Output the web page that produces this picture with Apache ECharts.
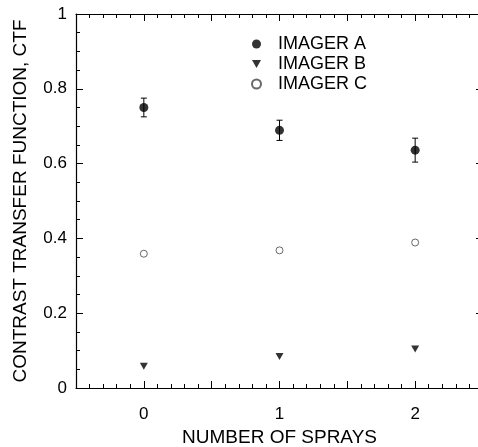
<!DOCTYPE html>
<html>
<head>
<meta charset="utf-8">
<script src="https://cdn.jsdelivr.net/npm/echarts@6/dist/echarts.min.js"></script>
<style>
  html, body { margin: 0; padding: 0; background: #fff; }
  #chart { width: 478px; height: 447px; }
</style>
</head>
<body>
<div id="chart"></div>
<script>
// Number of sprays (x positions)
var sprays = [0, 1, 2];
// Contrast transfer function per imager
var imagerA = [0.750, 0.689, 0.636];
var imagerAErr = [0.025, 0.027, 0.032];
var imagerB = [0.058, 0.084, 0.104];
var imagerC = [0.359, 0.368, 0.389];
var seriesNames = ['IMAGER A', 'IMAGER B', 'IMAGER C'];

var FONT = '"Liberation Sans", Arial, Helvetica, sans-serif';
var DOWN_TRIANGLE = 'path://M0,0L10,0L5,9Z';

function pairs(ys) {
  return sprays.map(function (x, i) { return [x, ys[i]]; });
}
var errData = sprays.map(function (x, i) {
  return [x, imagerA[i] - imagerAErr[i], imagerA[i] + imagerAErr[i]];
});

var tickLine = { color: '#000', width: 1 };
var axisCommon = {
  type: 'value',
  axisLine: { show: true, onZero: false, lineStyle: { color: '#000', width: 1.2 } },
  axisTick: { show: true, inside: true, length: 7, lineStyle: tickLine },
  minorTick: { show: true, length: 4, lineStyle: tickLine },
  splitLine: { show: false },
  minorSplitLine: { show: false }
};

var chart = echarts.init(document.getElementById('chart'), null, { renderer: 'canvas' });

chart.setOption({
  animation: false,
  backgroundColor: '#fff',
  grid: {
    left: 76, top: 14, right: -5, bottom: 59,
    containLabel: false,
    outerBoundsMode: 'none'
  },
  legend: {
    data: [
      { name: seriesNames[0], icon: 'circle' },
      { name: seriesNames[1], icon: DOWN_TRIANGLE },
      { name: seriesNames[2], icon: 'circle' }
    ],
    orient: 'vertical',
    left: 246,
    top: 30,
    itemWidth: 9,
    itemHeight: 9,
    itemGap: 2,
    selectedMode: false,
    textStyle: { fontFamily: FONT, fontSize: 18, color: '#000', lineHeight: 18, padding: [0, 0, 0, 12] }
  },
  xAxis: [
    Object.assign({}, axisCommon, {
      position: 'bottom',
      min: -0.5, max: 2.5, interval: 0.5,
      minorTick: { show: true, splitNumber: 5, length: 4, lineStyle: tickLine },
      axisLabel: {
        margin: 18, color: '#000', fontFamily: FONT, fontSize: 17,
        formatter: function (v) { return Math.abs(v - Math.round(v)) < 1e-9 ? String(Math.round(v)) : ''; }
      },
      name: 'NUMBER OF SPRAYS',
      nameLocation: 'middle',
      nameGap: 40,
      nameTextStyle: { fontFamily: FONT, fontSize: 19, color: '#000' }
    }),
    Object.assign({}, axisCommon, {
      position: 'top',
      min: -0.5, max: 2.5, interval: 0.5,
      minorTick: { show: true, splitNumber: 5, length: 4, lineStyle: tickLine },
      axisLabel: { show: false }
    })
  ],
  yAxis: [
    Object.assign({}, axisCommon, {
      position: 'left',
      min: 0, max: 1, interval: 0.2,
      minorTick: { show: true, splitNumber: 4, length: 4, lineStyle: tickLine },
      axisLabel: {
        margin: 9, color: '#000', fontFamily: FONT, fontSize: 17,
        formatter: function (v) { return v === 0 ? '0' : v === 1 ? '1' : v.toFixed(1); }
      },
      name: 'CONTRAST TRANSFER FUNCTION, CTF',
      nameLocation: 'middle',
      nameGap: 46,
      nameTextStyle: { fontFamily: FONT, fontSize: 19, color: '#000' }
    }),
    Object.assign({}, axisCommon, {
      position: 'right',
      min: 0, max: 1, interval: 0.2,
      minorTick: { show: true, splitNumber: 4, length: 4, lineStyle: tickLine },
      axisLabel: { show: false }
    })
  ],
  series: [
    {
      name: 'IMAGER A error',
      type: 'custom',
      xAxisIndex: 0, yAxisIndex: 0,
      data: errData,
      silent: true,
      z: 1,
      renderItem: function (params, api) {
        var x = api.value(0);
        var lo = api.coord([x, api.value(1)]);
        var hi = api.coord([x, api.value(2)]);
        var cap = 3;
        var style = { stroke: '#000', lineWidth: 1 };
        return {
          type: 'group',
          children: [
            { type: 'line', shape: { x1: lo[0], y1: lo[1], x2: hi[0], y2: hi[1] }, style: style },
            { type: 'line', shape: { x1: lo[0] - cap, y1: lo[1], x2: lo[0] + cap, y2: lo[1] }, style: style },
            { type: 'line', shape: { x1: hi[0] - cap, y1: hi[1], x2: hi[0] + cap, y2: hi[1] }, style: style }
          ]
        };
      }
    },
    {
      name: seriesNames[0],
      type: 'scatter',
      data: pairs(imagerA),
      symbol: 'circle',
      symbolSize: 9,
      itemStyle: { color: '#000' },
      z: 3
    },
    {
      name: seriesNames[1],
      type: 'scatter',
      data: pairs(imagerB),
      symbol: DOWN_TRIANGLE,
      symbolSize: [8, 7],
      itemStyle: { color: '#000' },
      z: 3
    },
    {
      name: seriesNames[2],
      type: 'scatter',
      data: pairs(imagerC),
      symbol: 'circle',
      symbolSize: 7,
      itemStyle: { color: '#fff', borderColor: '#444', borderWidth: 1 },
      z: 3
    }
  ]
});
</script>
</body>
</html>
